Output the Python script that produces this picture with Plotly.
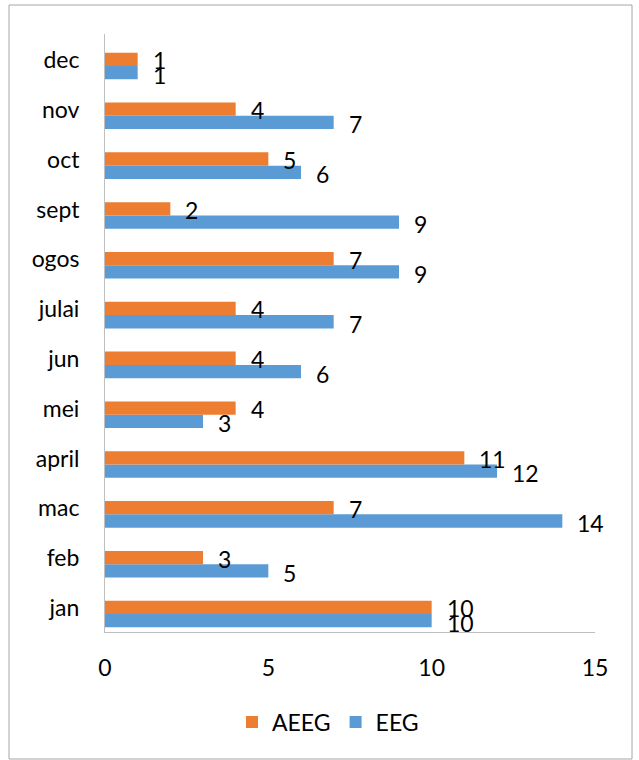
import plotly.graph_objects as go

months = ["jan", "feb", "mac", "april", "mei", "jun", "julai", "ogos", "sept", "oct", "nov", "dec"]
aeeg = [10, 3, 7, 11, 4, 4, 4, 7, 2, 5, 4, 1]
eeg = [10, 5, 14, 12, 3, 6, 7, 9, 9, 6, 7, 1]
x_ticks = [0, 5, 10, 15]

ORANGE = "#ED7D31"
BLUE = "#5B9BD5"
GRID = "#BFBFBF"
FONT = "Lato"
FS = 23

W, H = 639, 760
L, R, T, B = 105, 44, 34, 128
pw, ph = W - L - R, H - T - B

BARGAP = 0.466
fig = go.Figure()
fig.add_trace(go.Bar(y=months, x=eeg, orientation="h", name="EEG",
                     marker=dict(color=BLUE, line=dict(width=0)), legendrank=2))
fig.add_trace(go.Bar(y=months, x=aeeg, orientation="h", name="AEEG",
                     marker=dict(color=ORANGE, line=dict(width=0)), legendrank=1))

Y_RANGE = [-0.361, 11.642]
unit_px = ph / (Y_RANGE[1] - Y_RANGE[0])
bar_px = unit_px * (1 - BARGAP) / 2
ann = []
for m, a, e in zip(months, aeeg, eeg):
    ann.append(dict(x=a, y=m, xref="x", yref="y", text=str(a), showarrow=False,
                    xanchor="left", yanchor="middle", xshift=13, yshift=bar_px / 2 - 1,
                    font=dict(family=FONT, size=FS, color="#000")))
    ann.append(dict(x=e, y=m, xref="x", yref="y", text=str(e), showarrow=False,
                    xanchor="left", yanchor="middle", xshift=13, yshift=-bar_px / 2 - 2,
                    font=dict(family=FONT, size=FS, color="#000")))


def px_x(p):
    return (p - L) / pw


def px_y(p):
    return (H - B - p) / ph


# outer chart border
fig.add_shape(type="rect", xref="paper", yref="paper",
              x0=px_x(9), x1=px_x(632), y0=px_y(759), y1=px_y(5),
              line=dict(color="#A6A6A6", width=1), fillcolor="rgba(0,0,0,0)", layer="below")

fig.update_layout(
    width=W, height=H,
    margin=dict(l=L, r=R, t=T, b=B, pad=0),
    barmode="group", bargap=BARGAP, bargroupgap=0,
    plot_bgcolor="white", paper_bgcolor="white",
    font=dict(family=FONT, size=FS, color="#000"),
    annotations=ann,
    showlegend=True,
    legend=dict(orientation="h", x=px_x(328), xanchor="center", y=px_y(722), yanchor="middle",
                font=dict(family=FONT, size=FS, color="#000"), itemwidth=30, traceorder="normal"),
    xaxis=dict(range=[0, 15], tickvals=x_ticks, showgrid=False, zeroline=False,
               showline=True, linecolor=GRID, linewidth=1, ticks="", ticklabelstandoff=15,
               tickfont=dict(family=FONT, size=FS, color="#000")),
    yaxis=dict(categoryorder="array", categoryarray=months, range=Y_RANGE, showgrid=False,
               zeroline=False, showline=True, linecolor=GRID, linewidth=1, ticks="",
               ticklabelstandoff=20, ticklabelshift=-6,
               tickfont=dict(family=FONT, size=FS, color="#000")),
)

fig.write_html("out.html", config={"displayModeBar": False},
               post_script="document.body.style.margin='0';document.body.style.overflow='hidden';")
